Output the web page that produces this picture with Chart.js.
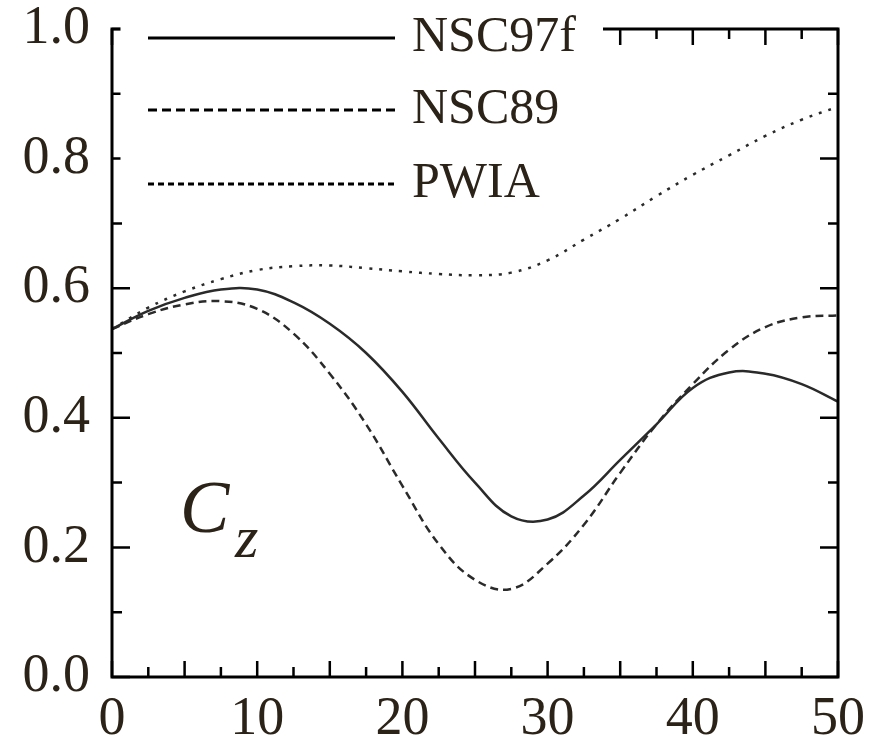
<!DOCTYPE html>
<html>
<head>
<meta charset="utf-8">
<script src="https://cdn.jsdelivr.net/npm/chart.js@4.4.1/dist/chart.umd.min.js"></script>
<style>
  html, body { margin: 0; padding: 0; background: #fff; }
  #wrap { width: 869px; height: 745px; }
</style>
</head>
<body>
<div id="wrap"><canvas id="cz" width="869" height="745"></canvas></div>
<script>
// valores (x = ângulo, y = Cz)
const xVals = [0, 2.5, 5, 7.5, 10, 12.5, 15, 17.5, 20, 22.5, 25, 27.5, 30, 32.5, 35, 37.5, 40, 42.5, 45, 47.5, 50];
const nsc97f = [0.537, 0.565, 0.585, 0.598, 0.598, 0.578, 0.545, 0.50, 0.44, 0.368, 0.30, 0.248, 0.243, 0.28, 0.335, 0.39, 0.446, 0.47, 0.468, 0.452, 0.425];
const nsc89 = [0.537, 0.56, 0.575, 0.58, 0.568, 0.53, 0.468, 0.39, 0.295, 0.205, 0.15, 0.136, 0.175, 0.235, 0.315, 0.39, 0.452, 0.505, 0.54, 0.555, 0.558];
const pwia = [0.537, 0.57, 0.595, 0.614, 0.628, 0.634, 0.635, 0.631, 0.626, 0.622, 0.62, 0.624, 0.643, 0.675, 0.707, 0.742, 0.775, 0.805, 0.835, 0.86, 0.88];

const xTickLabels = [0, 10, 20, 30, 40, 50];
const yTickLabels = [0, 0.2, 0.4, 0.6, 0.8, 1.0];
const seriesNames = ["NSC97f", "NSC89", "PWIA"];

const corTexto = "#2b2218";
const fonte = "'Liberation Serif', 'Times New Roman', serif";

function pontos(arr) {
  return xVals.map((x, i) => ({ x: x, y: arr[i] }));
}

// moldura com marcas para dentro nos quatro lados
const moldura = {
  id: "moldura",
  afterDatasetsDraw(chart) {
    const { ctx, chartArea: a, scales } = chart;
    const sx = scales.x, sy = scales.y;
    ctx.save();
    ctx.strokeStyle = "#000";
    ctx.lineWidth = 3;
    ctx.strokeRect(a.left, a.top, a.right - a.left, a.bottom - a.top);
    ctx.lineWidth = 2.5;
    ctx.beginPath();
    for (let i = 0; i <= 20; i++) {
      const px = sx.getPixelForValue(i * 2.5);
      const len = i % 2 === 0 ? 16 : 10;
      ctx.moveTo(px, a.bottom); ctx.lineTo(px, a.bottom - len);
      ctx.moveTo(px, a.top); ctx.lineTo(px, a.top + len);
    }
    for (let i = 0; i <= 10; i++) {
      const py = sy.getPixelForValue(i / 10);
      const len = i % 2 === 0 ? 18 : 10;
      ctx.moveTo(a.left, py); ctx.lineTo(a.left + len, py);
      ctx.moveTo(a.right, py); ctx.lineTo(a.right - len, py);
    }
    ctx.stroke();
    ctx.restore();
  },
};

// legenda desenhada à mão (caixa branca sobre a borda de cima)
const legenda = {
  id: "legenda",
  afterDraw(chart) {
    const { ctx, chartArea: a } = chart;
    ctx.save();
    ctx.fillStyle = "#fff";
    ctx.fillRect(a.left + 8.5, 0, 603 - (a.left + 8.5), 205);
    const ys = [38, 110, 184];
    const dashes = [[], [9, 5], [6, 4]];
    ctx.strokeStyle = "#000";
    ctx.lineWidth = 3;
    ys.forEach((y, i) => {
      ctx.setLineDash(dashes[i]);
      ctx.beginPath();
      ctx.moveTo(148, y);
      ctx.lineTo(395, y);
      ctx.stroke();
    });
    ctx.setLineDash([]);
    ctx.fillStyle = corTexto;
    ctx.font = "50px " + fonte;
    ctx.textBaseline = "middle";
    ctx.textAlign = "left";
    seriesNames.forEach((nome, i) => ctx.fillText(nome, 412, ys[i]));
    // rótulo Cz
    ctx.textBaseline = "alphabetic";
    ctx.font = "italic 74px " + fonte;
    ctx.fillText("C", 180, 532);
    ctx.font = "italic 60px " + fonte;
    ctx.fillText("z", 235, 557);
    ctx.restore();
  },
};

const linhaBase = {
  fill: false,
  pointRadius: 0,
  borderColor: "#2a2a2a",
  borderWidth: 2.5,
  tension: 0.4,
};

function semPadding(s) {
  s.paddingTop = 0; s.paddingBottom = 0;
  s.paddingLeft = 0; s.paddingRight = 0;
}

new Chart(document.getElementById("cz"), {
  type: "line",
  data: {
    datasets: [
      Object.assign({ label: seriesNames[0], data: pontos(nsc97f) }, linhaBase),
      Object.assign({ label: seriesNames[1], data: pontos(nsc89), borderDash: [8, 5] }, linhaBase),
      Object.assign({ label: seriesNames[2], data: pontos(pwia), borderDash: [3, 7] }, linhaBase),
    ],
  },
  options: {
    responsive: false,
    animation: false,
    layout: { padding: { left: 0, right: 31, top: 29, bottom: 0 } },
    plugins: { legend: { display: false }, tooltip: { enabled: false } },
    scales: {
      x: {
        type: "linear",
        min: 0,
        max: 50,
        grid: { display: false, drawTicks: false },
        border: { display: false },
        afterFit: (s) => { s.height = 68; semPadding(s); },
        afterBuildTicks: (s) => { s.ticks = xTickLabels.map((v) => ({ value: v })); },
        ticks: {
          color: corTexto,
          padding: 10,
          font: { family: fonte, size: 54 },
          maxRotation: 0,
          callback: (v) => String(v),
        },
      },
      y: {
        min: 0,
        max: 1,
        grid: { display: false, drawTicks: false },
        border: { display: false },
        afterFit: (s) => { s.width = 112; semPadding(s); },
        afterBuildTicks: (s) => { s.ticks = yTickLabels.map((v) => ({ value: v })); },
        ticks: {
          color: corTexto,
          padding: 22,
          font: { family: fonte, size: 54 },
          callback: (v) => Number(v).toFixed(1),
        },
      },
    },
  },
  plugins: [moldura, legenda],
});
</script>
</body>
</html>
